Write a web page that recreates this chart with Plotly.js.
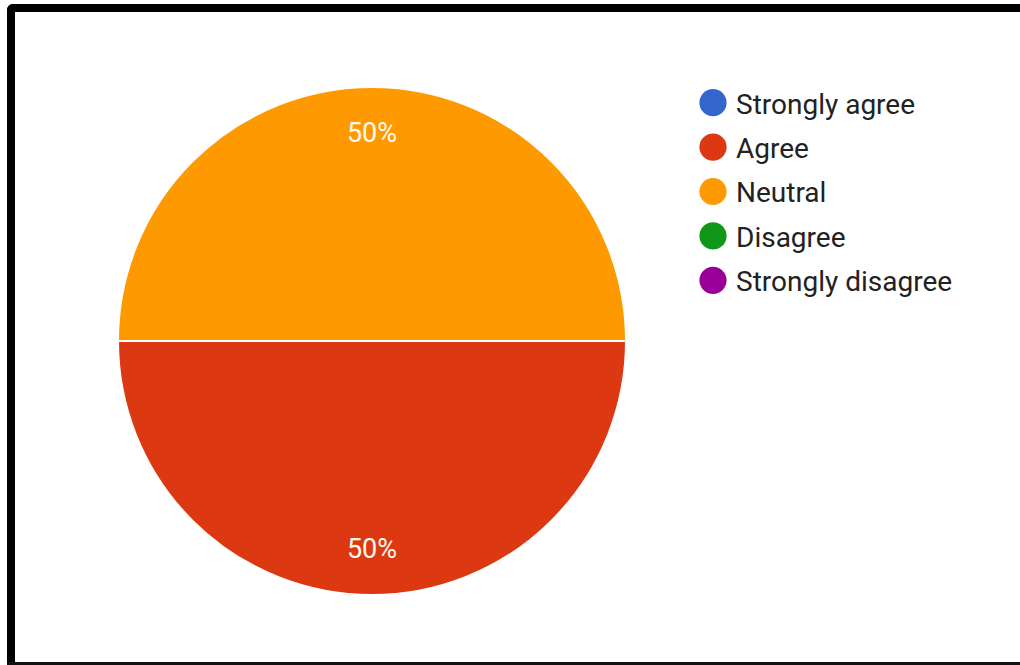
<!DOCTYPE html>
<html><head><meta charset="utf-8">
<script src="https://cdn.plot.ly/plotly-3.0.1.min.js"></script>
<style>
html,body{margin:0;padding:0;background:#fff;overflow:hidden;width:1020px;height:665px;}
.bar{position:absolute;background:#000;pointer-events:none;z-index:5;}
#bl{left:7px;top:4px;width:8px;height:661px;border-top-left-radius:6px;}
#bt{left:7px;top:4px;width:1013px;height:8px;border-top-left-radius:6px;}
#bb{left:7px;top:662px;width:1013px;height:3px;background:#111;}
#chart{position:absolute;left:0;top:0;width:1020px;height:665px;}
</style></head>
<body>
<div id="chart"></div>
<div class="bar" id="bl"></div>
<div class="bar" id="bt"></div>
<div class="bar" id="bb"></div>
<script>
const categories = ["Strongly agree", "Agree", "Neutral", "Disagree", "Strongly disagree"];
const values = [0, 50, 50, 0, 0];
const colors = ["#3366cc", "#dc3912", "#ff9900", "#109618", "#990099"];

const pieDomain = {x: [116/1020, 628/1020], y: [70/665, 578/665]};

const pie = {
  type: "pie",
  labels: categories,
  values: values,
  sort: false,
  direction: "clockwise",
  rotation: 90,
  marker: {colors: colors, line: {color: "#ffffff", width: 2}},
  textinfo: "none",
  showlegend: false,
  hoverinfo: "label+percent",
  domain: pieDomain
};

// transparent ring carrying the percentage labels near the rim
const labelRing = {
  type: "pie",
  labels: categories,
  values: values,
  sort: false,
  direction: "clockwise",
  rotation: 90,
  hole: 0.64,
  marker: {colors: categories.map(() => "rgba(0,0,0,0)"), line: {width: 0}},
  texttemplate: "%{percent:.0%}",
  textposition: "inside",
  insidetextorientation: "horizontal",
  textfont: {family: "Roboto, sans-serif", size: 27, color: "#fffaf0"},
  showlegend: false,
  hoverinfo: "skip",
  domain: pieDomain
};

const legendTraces = categories.map((c, i) => ({
  type: "scatter",
  mode: "markers",
  x: [null], y: [null],
  name: c,
  legendgroup: "g" + i,
  marker: {color: colors[i], size: 16, symbol: "circle"},
  showlegend: true,
  hoverinfo: "skip"
}));

const layout = {
  width: 1020, height: 665,
  margin: {l: 0, r: 0, t: 0, b: 0},
  paper_bgcolor: "#ffffff",
  plot_bgcolor: "#ffffff",
  xaxis: {visible: false, domain: [0.9, 0.91]},
  yaxis: {visible: false, domain: [0.9, 0.91]},
  showlegend: true,
  legend: {
    x: 690/1020, y: 1 - 78/665, xanchor: "left", yanchor: "top",
    font: {family: "Roboto, sans-serif", size: 28, color: "#222222"},
    tracegroupgap: 5,
    itemwidth: 36,
    bgcolor: "rgba(0,0,0,0)"
  }
};

Plotly.newPlot("chart", [pie, labelRing].concat(legendTraces), layout, {displayModeBar: false, staticPlot: true}).then(function () {
  document.querySelectorAll(".legend .legendpoints path.scatterpts").forEach(function (p) {
    const t = p.getAttribute("transform") || "";
    p.setAttribute("transform", t + " scale(1.7)");
  });
});
</script>
</body></html>
